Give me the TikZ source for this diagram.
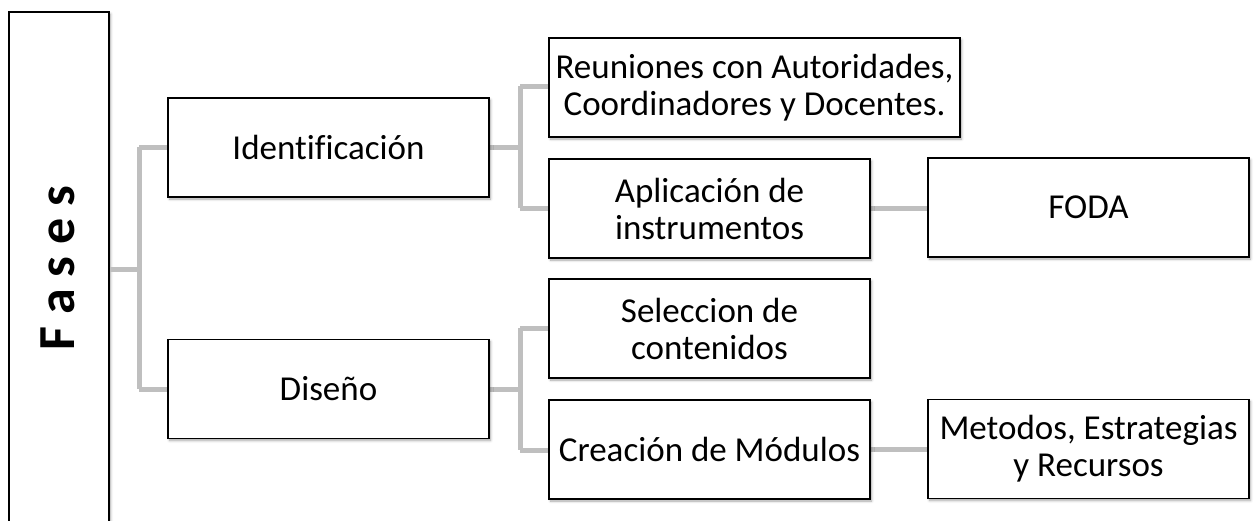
\documentclass[tikz,border=0pt]{standalone}
\usepackage{fontspec}
\setmainfont{Carlito}[Ligatures=NoCommon]
\usetikzlibrary{shadows.blur}
\begin{document}
\begin{tikzpicture}[x=1pt,y=-1pt,
  boxnode/.style={draw=black, line width=1.6pt, fill=white, minimum width=321pt, minimum height=99pt,
    inner sep=0pt, align=center, font=\fontsize{35}{37}\selectfont,
    blur shadow={shadow xshift=1.5pt, shadow yshift=-2pt, shadow blur radius=2.5pt, shadow blur steps=6, shadow opacity=35}},
  conn/.style={draw=black!25, line width=5pt, line join=miter}]
\useasboundingbox (0,0) rectangle (1254,520);
\clip (0,0) rectangle (1254,520);
% junction points
\coordinate (j1) at (139,269);
\coordinate (j2) at (520,147);
\coordinate (j3) at (520,389);
\coordinate (identw) at (168,147);
\coordinate (disw) at (168,389);
% Fases box
\node[boxnode, minimum width=100pt, minimum height=512pt] (fases) at (59,268) {};
\node[rotate=90, font=\fontsize{52}{56}\selectfont\bfseries] (fasestxt) at ([xshift=-1pt]fases.center) {F a s e s};
% connectors (drawn before the boxes, which cover their ends)
\draw[conn] (fases.east |- j1) -- (j1);
\draw[conn] (j1 |- identw) -- (j1 |- disw);
\draw[conn] (j1 |- identw) -- (identw);
\draw[conn] (j1 |- disw) -- (disw);
\draw[conn] (489,147) -- (j2);
\draw[conn] (520,86) -- (520,208);
\draw[conn] (520,86) -- (549,86);
\draw[conn] (520,208) -- (549,208);
\draw[conn] (489,389) -- (j3);
\draw[conn] (520,328) -- (520,450);
\draw[conn] (520,328) -- (549,328);
\draw[conn] (520,450) -- (549,450);
\draw[conn] (870,208) -- (928,208);
\draw[conn] (870,449) -- (928,449);
% boxes
\node[boxnode] (ident) at (328.5,147.5) {Identificación};
\node[boxnode] (dis) at (328.5,389) {Diseño};
\node[boxnode, minimum width=411pt] (reu) at (754.5,87.5) {Reuniones con Autoridades,\\Coordinadores y Docentes.};
\node[boxnode] (apl) at (709.5,208.5) {Aplicación de\\instrumentos};
\node[boxnode] (foda) at (1088.5,207.5) {FODA};
\node[boxnode] (sel) at (709.5,328.5) {Seleccion de\\contenidos};
\node[boxnode] (cre) at (709.5,449.5) {Creación de Módulos};
\node[boxnode] (met) at (1088.5,449) {Metodos, Estrategias\\y Recursos};
\end{tikzpicture}
\end{document}
